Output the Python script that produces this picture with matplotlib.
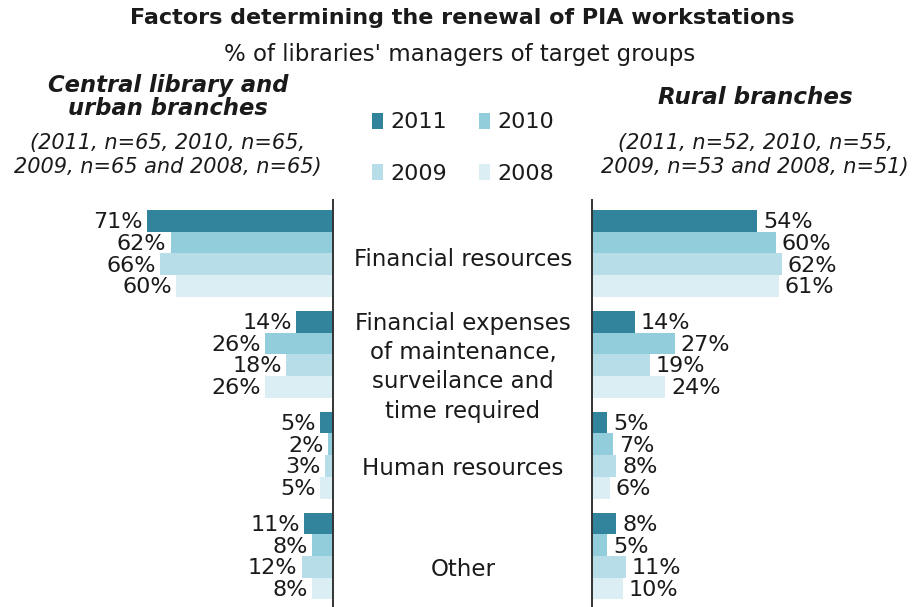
import matplotlib
matplotlib.use('Agg')
import matplotlib.pyplot as plt

# data
categories = ['Financial resources',
              'Financial expenses\nof maintenance,\nsurveilance and\ntime required',
              'Human resources',
              'Other']
years = ['2011', '2010', '2009', '2008']
colors = ['#31849B', '#92CDDC', '#B7DEE8', '#DAEEF3']

# central library and urban branches, one list per year
urban_2011 = [71, 14, 5, 11]
urban_2010 = [62, 26, 2, 8]
urban_2009 = [66, 18, 3, 12]
urban_2008 = [60, 26, 5, 8]

# rural branches
rural_2011 = [54, 14, 5, 8]
rural_2010 = [60, 27, 7, 5]
rural_2009 = [62, 19, 8, 11]
rural_2008 = [61, 24, 6, 10]

urban = [urban_2011, urban_2010, urban_2009, urban_2008]
rural = [rural_2011, rural_2010, rural_2009, rural_2008]

W, H = 914, 607
fig = plt.figure(figsize=(W / 100, H / 100), dpi=100)

def fx(px):
    return px / W

def fy(py):
    return 1 - py / H

group_pitch = 4.65
txt_col = '#1a1a1a'
val_size = 16

ax_l = fig.add_axes([0, 0, fx(333), (H - 200) / H])
ax_r = fig.add_axes([fx(592), 0, fx(W - 592), (H - 200) / H])

handles = []
for i, yr in enumerate(years):
    pos = [g * group_pitch + i for g in range(len(categories))]
    bl = ax_l.barh(pos, urban[i], height=1.0, align='edge', color=colors[i], label=yr)
    br = ax_r.barh(pos, rural[i], height=1.0, align='edge', color=colors[i])
    handles.append(bl)
    for p, v in zip(pos, urban[i]):
        ax_l.annotate(f'{v}%', (v, p + 0.5), xytext=(-3, -1), textcoords='offset points',
                      ha='right', va='center', fontsize=val_size, color=txt_col)
    for p, v in zip(pos, rural[i]):
        ax_r.annotate(f'{v}%', (v, p + 0.5), xytext=(4, -1), textcoords='offset points',
                      ha='left', va='center', fontsize=val_size, color=txt_col)

ax_l.set_xlim(127.1, 0)
ax_r.set_xlim(0, 105.2)
for ax in (ax_l, ax_r):
    ax.set_ylim(18.3, -0.46)
    ax.set_xticks([])
    ax.set_yticks([])
    for s in ax.spines.values():
        s.set_visible(False)
ax_l.spines['right'].set_visible(True)
ax_r.spines['left'].set_visible(True)
for s in (ax_l.spines['right'], ax_r.spines['left']):
    s.set_linewidth(1.4)
    s.set_color('#333333')

# category labels in the middle
label_shift = [0.3, 0.6, 0.6, 0.6]
for g, cat in enumerate(categories):
    yc = g * group_pitch + 2 + label_shift[g]
    ypix = 200 + (yc + 0.46) / (18.3 + 0.46) * (H - 200)
    fig.text(fx(463), fy(ypix), cat, ha='center', va='center', fontsize=16.5,
             color=txt_col, linespacing=1.35)

# titles
fig.text(fx(462), fy(18), 'Factors determining the renewal of PIA workstations',
         ha='center', va='center', fontsize=16, fontweight='bold', color=txt_col)
fig.text(fx(460), fy(55), "% of libraries' managers of target groups",
         ha='center', va='center', fontsize=16.5, color=txt_col)

fig.text(fx(168), fy(97), 'Central library and\nurban branches', ha='center', va='center',
         fontsize=16.3, fontweight='bold', fontstyle='italic', color=txt_col, linespacing=1.05)
fig.text(fx(168), fy(155), '(2011, n=65, 2010, n=65,\n2009, n=65 and 2008, n=65)',
         ha='center', va='center', fontsize=15, fontstyle='italic', color=txt_col,
         linespacing=1.2)
fig.text(fx(755), fy(98), 'Rural branches', ha='center', va='center',
         fontsize=16.6, fontweight='bold', fontstyle='italic', color=txt_col)
fig.text(fx(755), fy(155), '(2011, n=52, 2010, n=55,\n2009, n=53 and 2008, n=51)',
         ha='center', va='center', fontsize=15, fontstyle='italic', color=txt_col,
         linespacing=1.2)

# legend: 2011 / 2010 on top row, 2009 / 2008 below
order = [0, 2, 1, 3]
fig.legend([handles[k] for k in order], [years[k] for k in order], ncol=2,
           loc='center', bbox_to_anchor=(fx(463), fy(148)), frameon=False,
           fontsize=16, handlelength=0.5, handleheight=0.75, handletextpad=0.35,
           columnspacing=1.4, labelspacing=1.4, labelcolor=txt_col)

fig.savefig('out.png', dpi=100)
